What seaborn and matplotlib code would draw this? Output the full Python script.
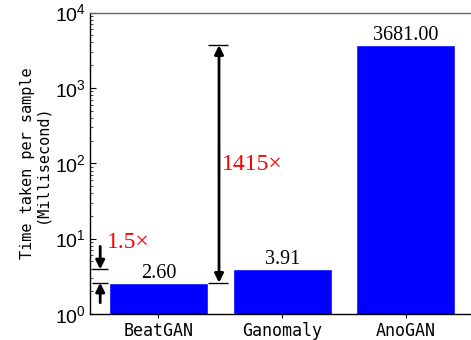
import matplotlib
matplotlib.use("Agg")
import matplotlib.pyplot as plt
import seaborn as sns
import pandas as pd

models = ["BeatGAN", "Ganomaly", "AnoGAN"]
times_ms = [2.60, 3.91, 3681.00]
value_labels = ["2.60", "3.91", "3681.00"]
ratio_small = "1.5×"
ratio_big = "1415×"
ytick_vals = [1, 10, 100, 1000, 10000]
ytick_labels = [r"$\mathrm{10^{%d}}$" % k for k in range(5)]

sns.set_theme(style="white")
plt.rcParams["font.family"] = ["DejaVu Sans Mono"]
plt.rcParams["mathtext.fontset"] = "custom"
plt.rcParams["mathtext.rm"] = "Liberation Sans"
plt.rcParams["mathtext.it"] = "Liberation Sans:italic"
plt.rcParams["mathtext.bf"] = "Liberation Sans:bold"

df = pd.DataFrame({"model": models, "time": times_ms})

fig = plt.figure(figsize=(4.71, 3.40), dpi=100)
W, H = 471, 340
left, right, top, bottom = 90.3, 474.0, 12.5, 314.0
ax = fig.add_axes([left / W, 1 - bottom / H, (right - left) / W, (bottom - top) / H])
ax.set_yscale("log")
sns.barplot(data=df, x="model", y="time", color="#0000ff", saturation=1,
            width=0.8, ax=ax, errorbar=None)
ax.set_ylim(1, 1e4)
ax.set_xlim(-0.55, 2.55)

ax.set_yticks(ytick_vals, labels=ytick_labels)
ax.tick_params(axis="y", which="major", direction="in", length=4, width=0.8,
               labelsize=14, pad=3, colors="black", left=True)
ax.tick_params(axis="y", which="minor", direction="in", length=2, width=0.6, left=True)
ax.tick_params(axis="x", which="major", direction="out", length=3, width=0.8,
               labelsize=12, pad=3, bottom=True, colors="black")
ax.set_xlabel("")
ax.set_ylabel("Time taken per sample\n(Millisecond)", fontsize=11, labelpad=4,
              linespacing=1.0, color="black")

for s in ["left", "bottom"]:
    ax.spines[s].set_color("black")
    ax.spines[s].set_linewidth(1.0)
ax.spines["top"].set_color("#666666")
ax.spines["top"].set_linewidth(1.0)
ax.spines["right"].set_visible(False)

# value labels
for i, (v, lab) in enumerate(zip(times_ms, value_labels)):
    ax.annotate(lab, (i, v), xytext=(0, 0), textcoords="offset points",
                ha="center", va="bottom", fontsize=14.5,
                family="Liberation Serif", color="black")

arrow_kw = dict(color="black", lw=2.0, mutation_scale=13, shrinkA=0, shrinkB=0)

# small ratio annotation (BeatGAN vs Ganomaly)
ax.hlines([times_ms[0], times_ms[1]], -0.54, -0.41, colors="black", lw=1.0)
ax.annotate("", xy=(-0.47, times_ms[1]), xytext=(-0.47, 7.9),
            arrowprops=dict(arrowstyle="-|>", **arrow_kw))
ax.annotate("", xy=(-0.47, times_ms[0]), xytext=(-0.47, 1.41),
            arrowprops=dict(arrowstyle="-|>", **arrow_kw))
ax.text(-0.415, 8.8, ratio_small, color="red", fontsize=17,
        family="Liberation Serif", ha="left", va="center")

# big ratio annotation (BeatGAN vs AnoGAN)
ax.hlines([times_ms[0], times_ms[2]], 0.40, 0.56, colors="black", lw=1.0)
ax.annotate("", xy=(0.49, times_ms[2]), xytext=(0.49, times_ms[0]),
            arrowprops=dict(arrowstyle="<|-|>", **arrow_kw))
ax.text(0.51, 97, ratio_big, color="red", fontsize=17,
        family="Liberation Serif", ha="left", va="center")

fig.savefig("out.png", dpi=100)
